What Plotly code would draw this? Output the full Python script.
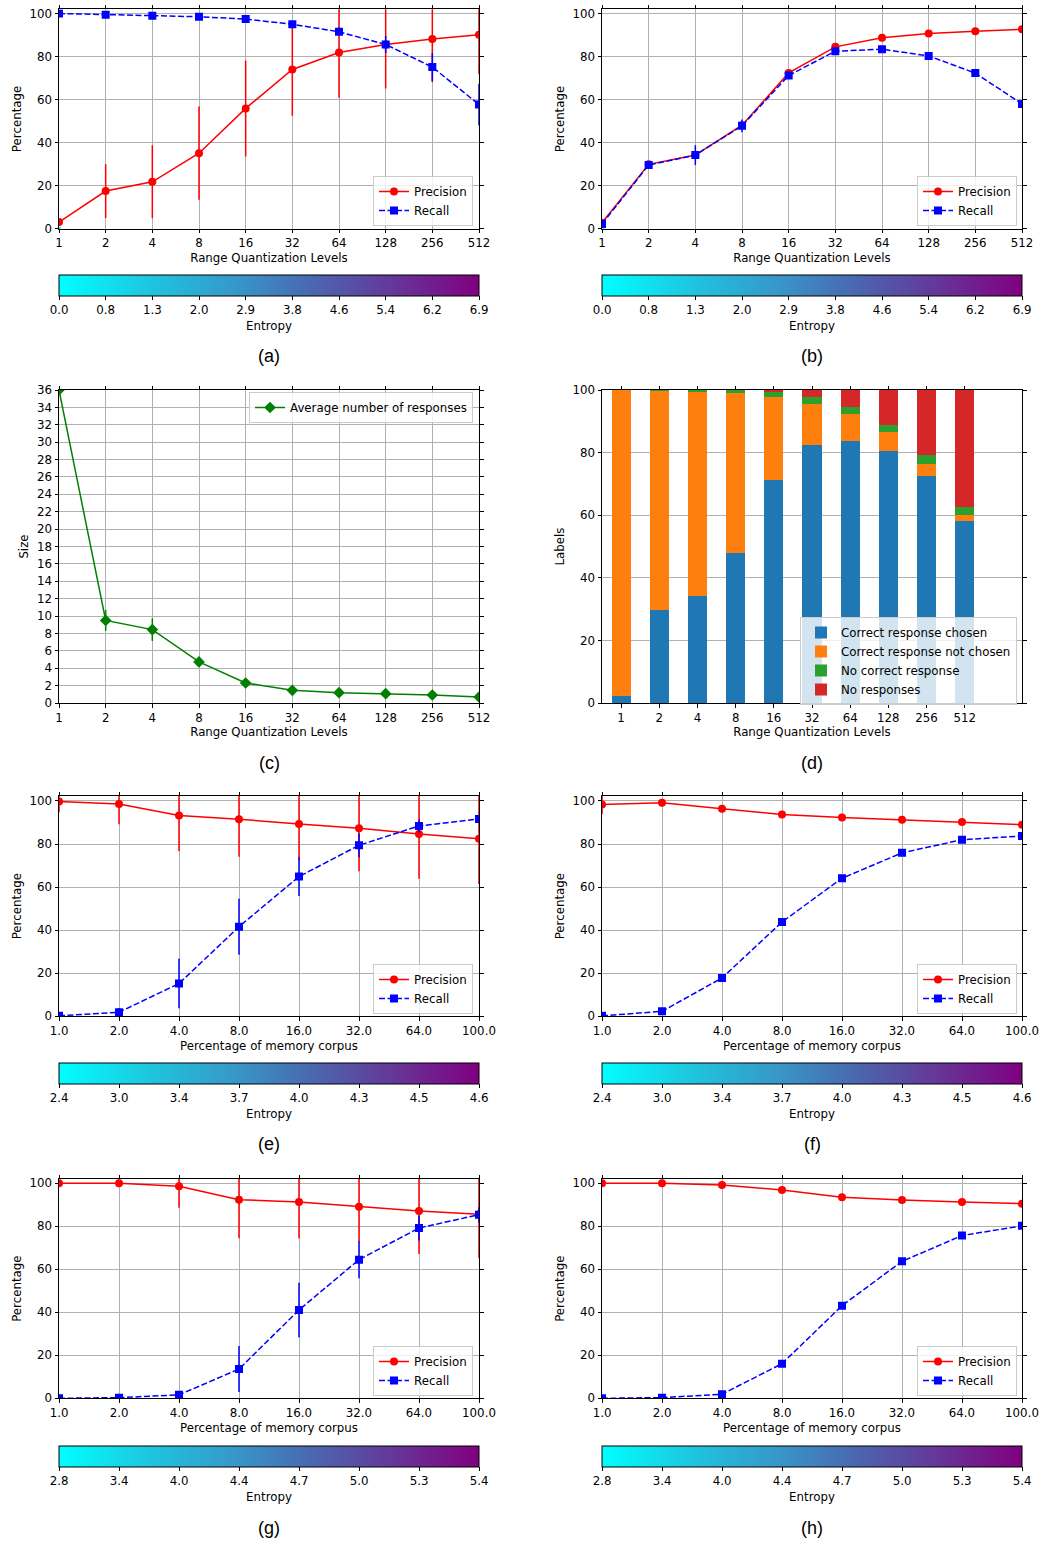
import plotly.graph_objects as go

W, H = 1052, 1542

# ---------------- data ----------------
q_levels = ['1', '2', '4', '8', '16', '32', '64', '128', '256', '512']
corpus_pct = ['1.0', '2.0', '4.0', '8.0', '16.0', '32.0', '64.0', '100.0']

# (a)
a_prec = [3.1, 17.5, 21.8, 35.1, 55.9, 74.0, 81.9, 85.6, 88.1, 90.1]
a_prec_err = [1.0, 12.5, 17.0, 21.7, 22.3, 21.5, 21.0, 20.5, 20.0, 18.3]
a_rec = [100.0, 99.4, 98.9, 98.5, 97.4, 95.0, 91.5, 85.6, 75.1, 57.7]
a_rec_err = [0.2, 0.5, 0.6, 0.8, 1.0, 1.5, 2.0, 4.0, 6.5, 9.7]

# (b)
b_prec = [2.8, 29.9, 34.2, 48.1, 72.4, 84.5, 88.7, 90.7, 91.8, 92.7]
b_prec_err = [0.5, 1.0, 1.0, 1.0, 0.8, 0.6, 0.5, 0.4, 0.4, 0.4]
b_rec = [2.2, 29.6, 34.2, 47.8, 71.2, 82.5, 83.4, 80.3, 72.3, 58.0]
b_rec_err = [1.0, 1.5, 4.6, 3.0, 1.0, 0.8, 0.8, 0.8, 0.8, 0.8]

# (c)
c_size = [36.0, 9.5, 8.44, 4.72, 2.3, 1.46, 1.19, 1.07, 0.92, 0.69]
c_size_err = [0.3, 1.2, 1.3, 0.3, 0.15, 0.1, 0.1, 0.1, 0.1, 0.1]

# (d)
d_chosen = [2.1, 29.6, 34.1, 48.0, 71.3, 82.4, 83.7, 80.5, 72.5, 58.2]
d_not_chosen = [97.9, 70.1, 65.2, 50.9, 26.5, 13.2, 8.7, 6.1, 3.9, 1.8]
d_no_correct = [0.0, 0.3, 0.7, 1.1, 1.8, 2.3, 2.1, 2.2, 2.7, 2.7]
d_no_resp = [0.0, 0.0, 0.0, 0.0, 0.4, 2.1, 5.5, 11.2, 20.9, 37.3]

# (e)
e_prec = [99.7, 98.6, 93.2, 91.5, 89.3, 87.3, 84.7, 82.4]
e_prec_err = [5.0, 9.4, 16.4, 17.4, 16.7, 20.0, 20.8, 21.0]
e_rec = [0.2, 1.9, 15.2, 41.6, 64.9, 79.4, 88.4, 91.6]
e_rec_err = [0.5, 2.0, 11.5, 13.0, 9.0, 5.5, 3.0, 2.0]

# (f)
f_prec = [98.3, 99.2, 96.4, 93.7, 92.3, 91.3, 90.2, 89.0]
f_prec_err = [4.5, 0.8, 0.8, 0.6, 0.6, 0.6, 0.6, 0.6]
f_rec = [0.2, 2.3, 17.8, 43.8, 64.1, 75.9, 82.0, 83.7]
f_rec_err = [0.3, 0.8, 1.0, 1.0, 1.0, 1.0, 0.8, 0.8]

# (g)
g_prec = [100.0, 100.0, 98.6, 92.4, 91.3, 89.1, 87.1, 85.6]
g_prec_err = [0.0, 0.0, 10.0, 18.0, 17.0, 16.0, 20.0, 20.5]
g_rec = [0.0, 0.3, 1.6, 13.6, 41.1, 64.5, 79.2, 85.4]
g_rec_err = [0.0, 0.3, 1.0, 10.7, 12.7, 8.7, 5.8, 3.6]

# (h)
h_prec = [100.0, 100.0, 99.2, 96.9, 93.5, 92.2, 91.3, 90.5]
h_prec_err = [0.0, 0.0, 0.3, 0.4, 0.5, 0.5, 0.5, 0.5]
h_rec = [0.0, 0.3, 1.9, 16.1, 43.1, 63.7, 75.7, 80.2]
h_rec_err = [0.0, 0.2, 0.4, 0.6, 0.8, 0.8, 0.8, 0.8]

# colorbar tick labels
ent_ab = ['0.0', '0.8', '1.3', '2.0', '2.9', '3.8', '4.6', '5.4', '6.2', '6.9']
ent_ef = ['2.4', '3.0', '3.4', '3.7', '4.0', '4.3', '4.5', '4.6']
ent_gh = ['2.8', '3.4', '4.0', '4.4', '4.7', '5.0', '5.3', '5.4']

# ---------------- styling ----------------
FONT = 'DejaVu Sans'
FS = 11.8
CSCALE = [[0.0, '#00ffff'], [0.22, '#1fc4de'], [0.42, '#3797c8'], [0.6, '#4a68b0'],
          [0.78, '#633b9a'], [1.0, '#800080']]
RED, BLUE, GREEN = '#ff0000', '#0000ff', '#008000'


def fx(p):
    return p / W


def fy(p):
    return 1 - p / H


LEFT = (59, 479)
RIGHT = (602, 1022)
geo = {
    1: (LEFT, (9.2, 228.7), [0, 102]),
    2: (RIGHT, (9.2, 228.7), [0, 102]),
    3: (LEFT, (390, 703), [0, 36]),
    4: (RIGHT, (390, 703), [0, 100]),
    5: (LEFT, (796, 1016.3), [0, 102.3]),
    6: (RIGHT, (796, 1016.3), [0, 102.3]),
    7: (LEFT, (1179, 1398.3), [0, 102]),
    8: (RIGHT, (1179, 1398.3), [0, 102]),
}

fig = go.Figure()


def ax_names(i):
    return ('x' if i == 1 else f'x{i}'), ('y' if i == 1 else f'y{i}')


def leg_name(i):
    return 'legend' if i == 1 else f'legend{i}'


def add_colorbar(i, cats, ent, top_px):
    xa, ya = ax_names(i)
    (l, r), _, _ = geo[i]
    n = len(ent)
    fig.add_trace(go.Scatter(
        x=[cats[0]], y=[0], mode='markers', xaxis=xa, yaxis=ya,
        marker=dict(size=4, symbol='square', color=[0], cmin=0, cmax=n - 1,
                    colorscale=CSCALE, showscale=True,
                    colorbar=dict(orientation='h', x=fx((l + r) / 2), xanchor='center',
                                  y=fy(top_px), yanchor='top', len=r - l, lenmode='pixels',
                                  thickness=21, thicknessmode='pixels', xpad=0, ypad=0,
                                  outlinewidth=1, outlinecolor='black',
                                  tickmode='array', tickvals=list(range(n)), ticktext=ent,
                                  ticks='outside', ticklen=3.5, tickwidth=0.8, tickcolor='black',
                                  tickfont=dict(size=FS, color='black', family=FONT),
                                  title=dict(text='Entropy', side='bottom',
                                             font=dict(size=FS, color='black', family=FONT)))),
        showlegend=False, hoverinfo='skip'))


def add_pr(i, cats, prec, prec_err, rec, rec_err):
    xa, ya = ax_names(i)
    fig.add_trace(go.Scatter(
        x=cats, y=prec, mode='lines+markers', name='Precision', xaxis=xa, yaxis=ya,
        line=dict(color=RED, width=1.5),
        marker=dict(symbol='circle', size=8, color=RED),
        error_y=dict(type='data', array=prec_err, visible=True, width=0, thickness=1.5, color=RED),
        legend=leg_name(i)))
    fig.add_trace(go.Scatter(
        x=cats, y=rec, mode='lines+markers', name='Recall', xaxis=xa, yaxis=ya,
        line=dict(color=BLUE, width=1.5, dash='6px,2.5px'),
        marker=dict(symbol='square', size=8, color=BLUE),
        error_y=dict(type='data', array=rec_err, visible=True, width=0, thickness=1.5, color=BLUE),
        legend=leg_name(i)))


# (a), (b)
add_colorbar(1, q_levels, ent_ab, 275)
add_pr(1, q_levels, a_prec, a_prec_err, a_rec, a_rec_err)
add_colorbar(2, q_levels, ent_ab, 275)
add_pr(2, q_levels, b_prec, b_prec_err, b_rec, b_rec_err)

# (c)
fig.add_trace(go.Scatter(
    x=q_levels, y=c_size, mode='lines+markers', name='Average number of responses',
    xaxis='x3', yaxis='y3', line=dict(color=GREEN, width=1.5),
    marker=dict(symbol='diamond', size=9, color=GREEN),
    error_y=dict(type='data', array=c_size_err, visible=True, width=0, thickness=1.5, color=GREEN),
    legend='legend3'))

# (d)
bar_series = [
    ('Correct response chosen', d_chosen, '#1f77b4'),
    ('Correct response not chosen', d_not_chosen, '#ff7f0e'),
    ('No correct response', d_no_correct, '#2ca02c'),
    ('No responses', d_no_resp, '#d62728'),
]
for name, vals, col in bar_series:
    fig.add_trace(go.Bar(x=q_levels, y=vals, name=name, xaxis='x4', yaxis='y4',
                         width=0.5, marker=dict(color=col, line=dict(width=0)),
                         legend='legend4'))

# (e)-(h)
add_colorbar(5, corpus_pct, ent_ef, 1063)
add_pr(5, corpus_pct, e_prec, e_prec_err, e_rec, e_rec_err)
add_colorbar(6, corpus_pct, ent_ef, 1063)
add_pr(6, corpus_pct, f_prec, f_prec_err, f_rec, f_rec_err)
add_colorbar(7, corpus_pct, ent_gh, 1445.7)
add_pr(7, corpus_pct, g_prec, g_prec_err, g_rec, g_rec_err)
add_colorbar(8, corpus_pct, ent_gh, 1445.7)
add_pr(8, corpus_pct, h_prec, h_prec_err, h_rec, h_rec_err)

# ---------------- axes ----------------
common = dict(showline=True, linecolor='black', linewidth=1, mirror='ticks',
              ticks='outside', ticklen=3.5, tickwidth=0.8, tickcolor='black',
              showgrid=True, gridcolor='#b0b0b0', gridwidth=0.8, zeroline=False,
              tickfont=dict(size=FS, color='black', family=FONT), automargin=False)

xtitles = {1: 'Range Quantization Levels', 2: 'Range Quantization Levels',
           3: 'Range Quantization Levels', 4: 'Range Quantization Levels',
           5: 'Percentage of memory corpus', 6: 'Percentage of memory corpus',
           7: 'Percentage of memory corpus', 8: 'Percentage of memory corpus'}
ytitles = {1: 'Percentage', 2: 'Percentage', 3: 'Size', 4: 'Labels',
           5: 'Percentage', 6: 'Percentage', 7: 'Percentage', 8: 'Percentage'}

layout_axes = {}
for i, ((l, r), (t, b), yr) in geo.items():
    xk = 'xaxis' if i == 1 else f'xaxis{i}'
    yk = 'yaxis' if i == 1 else f'yaxis{i}'
    ya_ref = 'y' if i == 1 else f'y{i}'
    xa_ref = 'x' if i == 1 else f'x{i}'
    cats = q_levels if i <= 4 else corpus_pct
    if i == 4:
        xr = [-0.5, 10.5]
        xgrid = False
    else:
        xr = [0, len(cats) - 1]
        xgrid = True
    if i == 3:
        ytv = list(range(0, 37, 2))
    else:
        ytv = list(range(0, 101, 20))
    layout_axes[xk] = dict(common, domain=[fx(l), fx(r)], anchor=ya_ref, type='category',
                           categoryorder='array', categoryarray=cats, range=xr,
                           showgrid=xgrid,
                           title=dict(text=xtitles[i], standoff=4,
                                      font=dict(size=FS, color='black', family=FONT)))
    layout_axes[yk] = dict(common, domain=[fy(b), fy(t)], anchor=xa_ref, range=yr,
                           tickmode='array', tickvals=ytv,
                           title=dict(text=ytitles[i], standoff=5,
                                      font=dict(size=FS, color='black', family=FONT)))

# ---------------- legends ----------------
leg_common = dict(bgcolor='rgba(255,255,255,0.8)', bordercolor='#cccccc', borderwidth=1,
                  font=dict(size=FS, color='black', family=FONT), tracegroupgap=0,
                  traceorder='normal')
legends = {
    1: dict(x=fx(473), y=fy(226), xanchor='right', yanchor='bottom'),
    2: dict(x=fx(1017), y=fy(226), xanchor='right', yanchor='bottom'),
    3: dict(x=fx(473), y=fy(392), xanchor='right', yanchor='top'),
    4: dict(x=fx(1017), y=fy(617), xanchor='right', yanchor='top'),
    5: dict(x=fx(473), y=fy(1014), xanchor='right', yanchor='bottom'),
    6: dict(x=fx(1017), y=fy(1014), xanchor='right', yanchor='bottom'),
    7: dict(x=fx(473), y=fy(1396), xanchor='right', yanchor='bottom'),
    8: dict(x=fx(1017), y=fy(1396), xanchor='right', yanchor='bottom'),
}
for i, d in legends.items():
    layout_axes[leg_name(i)] = dict(leg_common, **d)

# ---------------- captions ----------------
captions = [('(a)', 269, 356), ('(b)', 812, 356), ('(c)', 269, 763), ('(d)', 812, 763),
            ('(e)', 269, 1144), ('(f)', 812, 1144), ('(g)', 269, 1528), ('(h)', 812, 1528)]
annotations = [dict(text=t, x=fx(x), y=fy(y), xref='paper', yref='paper', showarrow=False,
                    xanchor='center', yanchor='middle',
                    font=dict(size=18, color='black', family='Liberation Sans'))
               for t, x, y in captions]

fig.update_layout(
    width=W, height=H, margin=dict(l=0, r=0, t=0, b=0),
    paper_bgcolor='white', plot_bgcolor='white',
    font=dict(family=FONT, size=FS, color='black'),
    barmode='stack', annotations=annotations,
    **layout_axes,
)

fig.write_html('out.html', config={'displayModeBar': False},
               post_script="document.body.style.margin='0px';"
                           "document.body.style.overflow='hidden';")
